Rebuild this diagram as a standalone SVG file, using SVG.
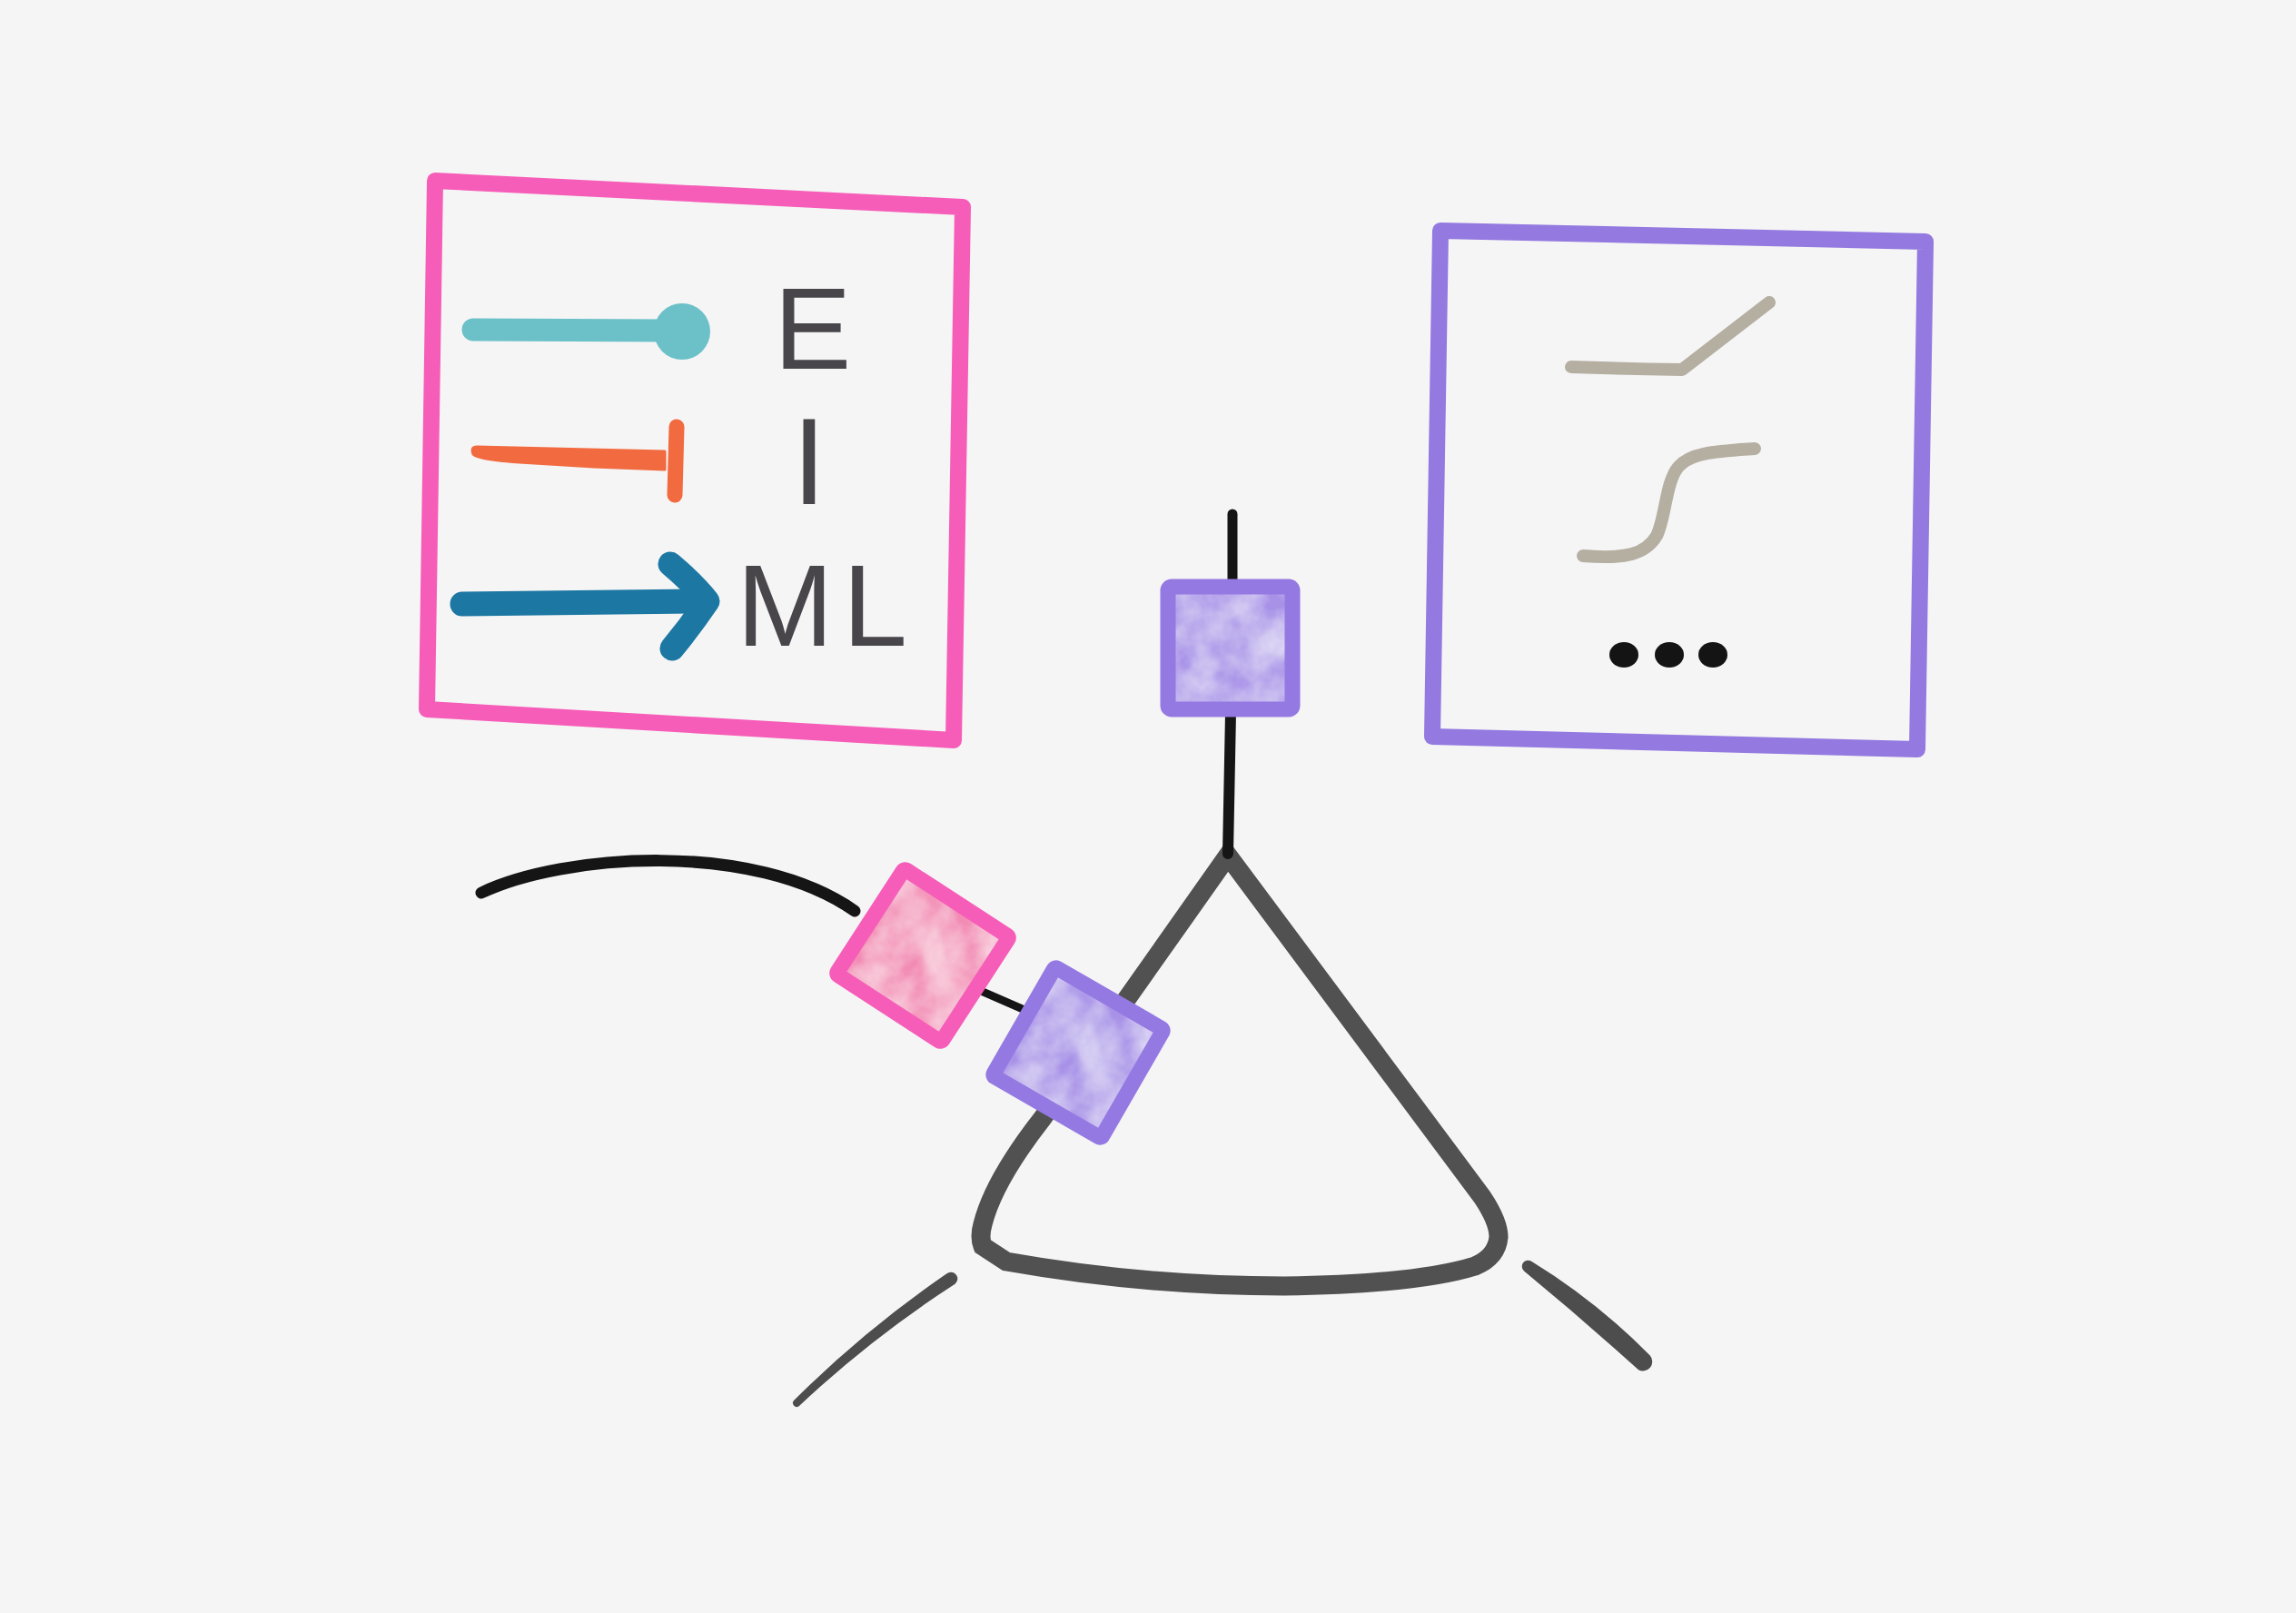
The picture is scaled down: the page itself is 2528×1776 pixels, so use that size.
<svg xmlns="http://www.w3.org/2000/svg" width="2528" height="1776" viewBox="0 0 2528 1776">
<style>
.txt{font-family:"Liberation Sans",Arial,sans-serif;fill:#48464a}
.frame{fill:none;stroke-width:18;stroke-linejoin:round;stroke-linecap:round}
.curve{fill:none;stroke:#b5afa2;stroke-width:14;stroke-linecap:round;stroke-linejoin:round}
.ink{fill:none;stroke:#151515;stroke-linecap:round;stroke-linejoin:round}
.tri{fill:none;stroke:#515151;stroke-width:21;stroke-linejoin:miter;stroke-linecap:round}
.tail{fill:#4d4d4d;stroke:#4d4d4d;stroke-width:1.5;stroke-linejoin:round}
.pinkF{fill:#f38cb5}
.pinkS{fill:none;stroke:#f65db8;stroke-width:17;stroke-linejoin:round}
.purpF{fill:#a892e8}
.purpS{fill:none;stroke:#9479e2;stroke-width:17;stroke-linejoin:round}
</style>
<defs>
<filter id="wash">
<feTurbulence type="fractalNoise" baseFrequency="0.022" numOctaves="4" seed="7" result="n"/>
<feColorMatrix in="n" type="matrix" values="0 0 0 0 1  0 0 0 0 1  0 0 0 0 1  0 0 0 0.9 -0.22" result="w"/>
<feComposite in="w" in2="SourceGraphic" operator="in" result="wm"/>
<feMerge><feMergeNode in="SourceGraphic"/><feMergeNode in="wm"/></feMerge>
</filter>
</defs>
<rect width="2528" height="1776" fill="#f5f5f5"/>

<g id="legend">
<path class="frame" stroke="#f65db8" d="M479,199 L1060,228 L1050,815 L470,781 Z"/>
<g id="legend-excitation">
<path d="M521,363 L735,364" stroke="#6cc1c9" stroke-width="25" stroke-linecap="round" fill="none"/>
<circle cx="751" cy="365" r="31" fill="#6cc1c9"/>
</g>
<g id="legend-inhibition">
<path d="M525,492 L732,497 L732,517 L654,514 L572,509 Q526,506 521,500 Q518,492 525,492 Z" fill="#f26a40" stroke="#f26a40" stroke-width="3" stroke-linejoin="round"/>
<path d="M745,470 L743,545" stroke="#f26a40" stroke-width="17" stroke-linecap="round" fill="none"/>
</g>
<g id="legend-ml">
<path d="M509,665 L770,662" stroke="#1c77a3" stroke-width="27" stroke-linecap="round" fill="none"/>
<path d="M738,621 Q764,643 779,662 Q760,690 740,714" stroke="#1c77a3" stroke-width="27" stroke-linecap="round" stroke-linejoin="round" fill="none"/>
</g>
<text class="txt" x="852" y="406" font-size="128">E</text>
<text class="txt" x="872" y="555" font-size="136">I</text>
<text class="txt" x="811" y="711" font-size="128" letter-spacing="10">ML</text>
</g>

<g id="functions">
<path class="frame" stroke="#9379e0" d="M1586,254 L2120,266 L2111,825 L1577,811 Z"/>
<path class="curve" d="M1730,404 Q1790,406 1852,407 L1948,333"/>
<path class="curve" d="M1743,612 C1790,616 1812,610 1824,590 C1834,570 1834,530 1848,514 C1862,498 1890,497 1932,494"/>
<ellipse cx="1788" cy="721" rx="16" ry="14" fill="#141414"/>
<ellipse cx="1838" cy="721" rx="16" ry="14" fill="#141414"/>
<ellipse cx="1886" cy="721" rx="16" ry="14" fill="#141414"/>
</g>

<g id="connectors">
<path class="tri" d="M1352,942 L1632,1318 Q1650,1345 1650,1362 Q1648,1384 1624,1394 Q1560,1414 1414,1416 Q1260,1416 1108,1389 L1082,1372 Q1078,1362 1082,1348 Q1094,1300 1148,1231 Z"/>
<path class="tail" d="M1042.9,1402.9 Q952.6,1464.8 874.8,1542.3 A3.5,3.5 0 0 0 879.2,1547.7 Q958.9,1472.6 1051.1,1413.1 A6.5,6.5 0 0 0 1042.9,1402.9 Z"/>
<path class="tail" d="M1685.8,1389.4 Q1757,1433 1816,1492.8 A9.5,9.5 0 0 1 1804,1507.3 Q1742,1451 1678.2,1398.6 A6,6 0 0 1 1685.8,1389.4 Z"/>
<path class="ink" stroke-width="11" d="M1357,566 L1357,640"/>
<path class="ink" stroke-width="12" d="M1355,785 L1352,940"/>
<path class="ink" stroke-width="13" d="M530,983 C620,940 830,925 941,1003"/>
<path class="ink" stroke-width="9" d="M1080,1091 L1135,1115"/>
</g>

<g id="node-top">
<rect class="purpF" x="1286" y="646" width="137" height="135" filter="url(#wash)"/>
<rect class="purpS" x="1286" y="646" width="137" height="135" rx="4" stroke-width="19"/>
</g>
<g id="node-pink" transform="translate(1016,1052) rotate(33)">
<rect class="pinkF" x="-69" y="-69" width="138" height="138" filter="url(#wash)"/>
<rect class="pinkS" x="-69" y="-69" width="138" height="138" rx="3"/>
</g>
<g id="node-purple" transform="translate(1187,1159) rotate(30)">
<rect class="purpF" x="-69" y="-69" width="138" height="138" filter="url(#wash)"/>
<rect class="purpS" x="-69" y="-69" width="138" height="138" rx="3"/>
</g>
</svg>
